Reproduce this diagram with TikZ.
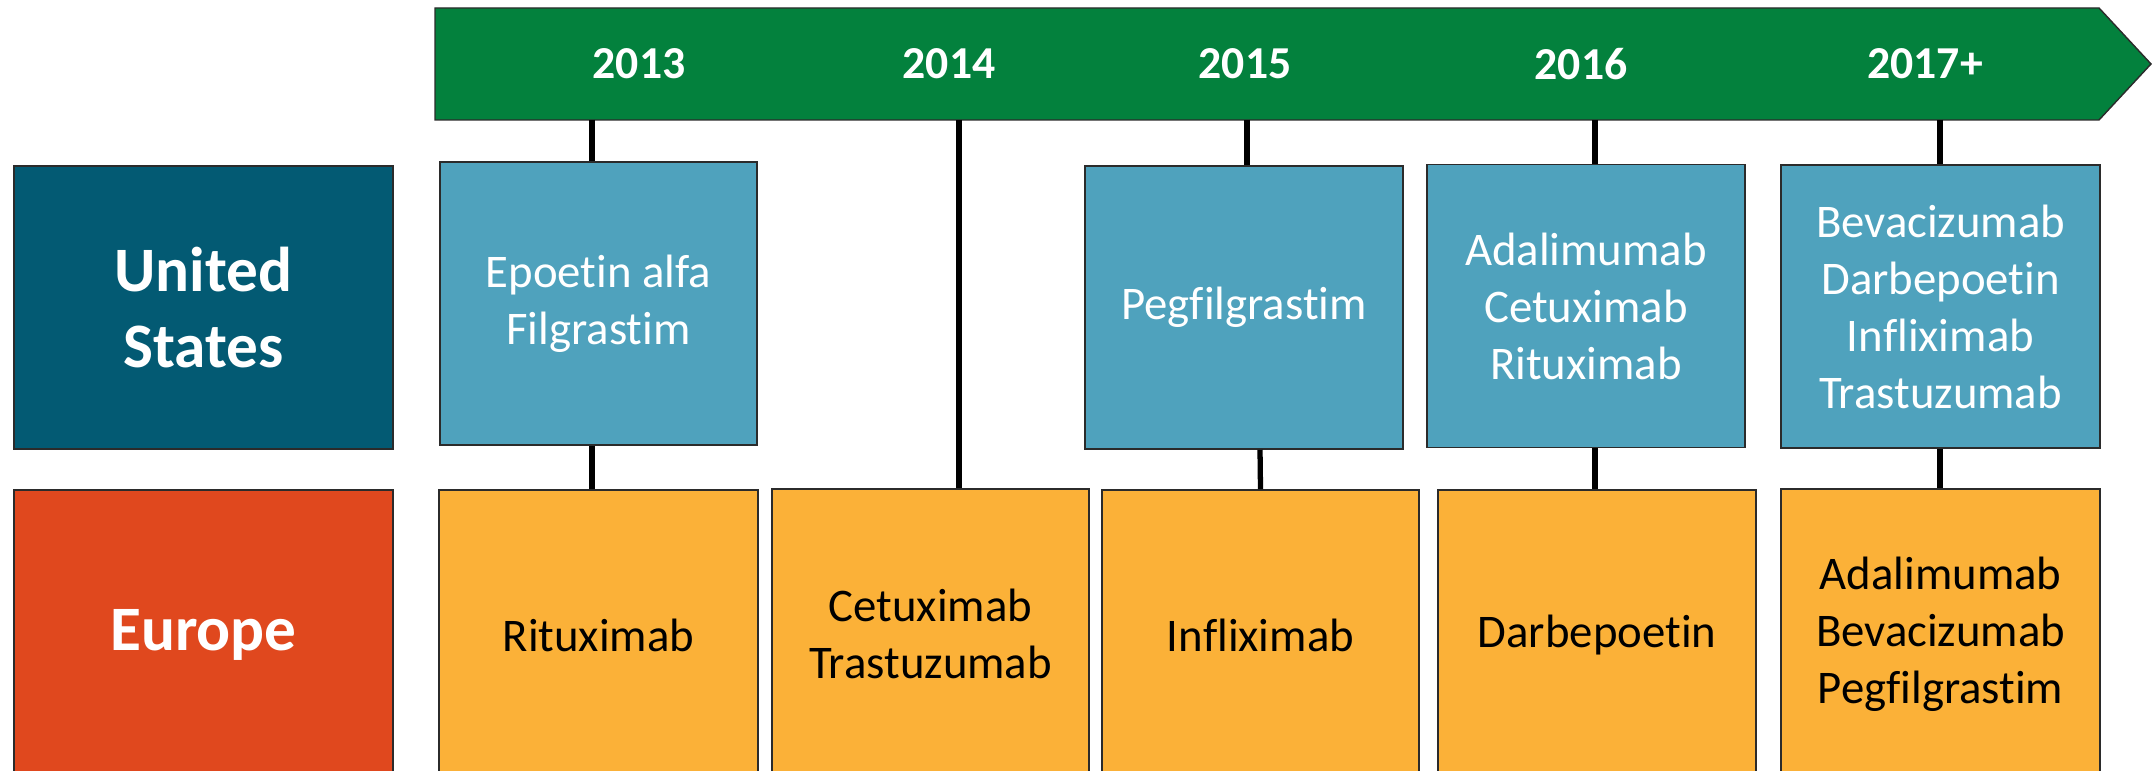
\documentclass[tikz,border=0pt]{standalone}
\usepackage{xcolor}
\usepackage{fontspec}
\setmainfont{Carlito}[Ligatures=NoCommon]
\usepackage{tikz}
\usetikzlibrary{positioning,calc}
\definecolor{timelineGreen}{HTML}{03813D}
\definecolor{usNavy}{HTML}{035A73}
\definecolor{usTeal}{HTML}{4FA2BD}
\definecolor{euRed}{HTML}{E0481E}
\definecolor{euAmber}{HTML}{FBB138}
\definecolor{boxLine}{HTML}{2B2B2B}
\tikzset{
  drugbox/.style={draw=boxLine, line width=0.4pt, align=center, inner sep=4pt, font=\fontsize{13.3}{16.2}\selectfont},
  usdrug/.style={drugbox, fill=usTeal, text=white, minimum height=2.83cm},
  eudrug/.style={drugbox, fill=euAmber, text=black, minimum height=2.9cm},
  regionbox/.style={drugbox, text=white, minimum width=3.79cm, font=\fontsize{18}{21.8}\selectfont\bfseries},
  yearlabel/.style={text=white, font=\fontsize{13}{16}\selectfont\bfseries},
  yearlink/.style={line width=1.5pt, draw=black}
}

\begin{document}
\begin{tikzpicture}[x=0.01cm, y=-0.01cm]
    \clip (0,0) rectangle (2154,771);

    % timeline banner
    \draw[draw=boxLine, line width=0.4pt, fill=timelineGreen]
      (435,8) -- (2099,8) -- (2151,64) -- (2099,120) -- (435,120) -- cycle;
    \node[yearlabel] (y13) at (639,64) {2013};
    \node[yearlabel] (y14) at (949,64) {2014};
    \node[yearlabel] (y15) at (1245,64) {2015};
    \node[yearlabel] (y16) at (1581,64) {2016};
    \node[yearlabel] (y17) at (1925,64) {2017+};

    % region labels
    \node[regionbox, fill=usNavy, minimum height=2.83cm] (us) at (203.5,307.5) {United\\States};
    \node[regionbox, fill=euRed, minimum height=2.9cm] (eu) at (203.5,635) {Europe};

    % United States row
    \node[usdrug, minimum width=3.17cm] (epo) at (598.5,303.5) {Epoetin alfa\\Filgrastim};
    \node[usdrug, minimum width=3.18cm] (pegf) at (1244,307.5) {Pegfilgrastim};
    \node[usdrug, minimum width=3.18cm] (adal) at (1586,306) {Adalimumab\\Cetuximab\\Rituximab};
    \node[usdrug, minimum width=3.19cm] (beva) at (1940.5,306.5) {Bevacizumab\\Darbepoetin\\Infliximab\\Trastuzumab};

    % Europe row
    \node[eudrug, minimum width=3.19cm] (ritu) at (598.5,635) {Rituximab};
    \node[eudrug, minimum width=3.17cm] (cetu) at (930.5,634) {Cetuximab\\Trastuzumab};
    \node[eudrug, minimum width=3.17cm] (infl) at (1260.5,635) {Infliximab};
    \node[eudrug, minimum width=3.18cm] (darb) at (1597,635) {Darbepoetin};
    \node[eudrug, minimum width=3.19cm] (adeu) at (1940.5,634) {Adalimumab\\Bevacizumab\\Pegfilgrastim};

    % links from the timeline
    \coordinate (t13) at (592,120);
    \coordinate (t14) at (959,120);
    \coordinate (t15) at (1247,120);
    \coordinate (t16) at (1595,120);
    \coordinate (t17) at (1940,120);
    \draw[yearlink] (t13) -- (t13 |- epo.north);
    \draw[yearlink] (t13 |- epo.south) -- (t13 |- ritu.north);
    \draw[yearlink] (t14) -- (t14 |- cetu.north);
    \draw[yearlink] (t15) -- (t15 |- pegf.north);
    \draw[yearlink] ([xshift=0.16cm]pegf.south) -- (infl.north);
    \draw[yearlink] (t16) -- (t16 |- adal.north);
    \draw[yearlink] (t16 |- adal.south) -- (t16 |- darb.north);
    \draw[yearlink] (t17) -- (t17 |- beva.north);
    \draw[yearlink] (t17 |- beva.south) -- (t17 |- adeu.north);
  \end{tikzpicture}
\end{document}
